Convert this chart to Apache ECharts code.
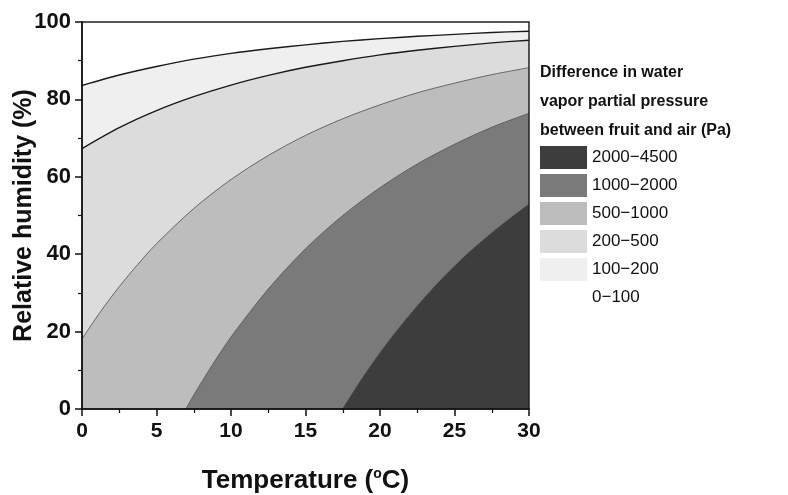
<!DOCTYPE html>
<html>
<head>
<meta charset="utf-8">
<script src="https://cdn.jsdelivr.net/npm/echarts@6/dist/echarts.min.js"></script>
<style>html,body{margin:0;padding:0;background:#fff}#c{width:788px;height:495px}</style>
</head>
<body>
<div id="c"></div>
<script>
// Contour boundaries: [temperature °C, relative humidity %]
const contour100 = [[0,83.6],[2.5,86.3],[5,88.5],[7.5,90.4],[10,91.9],[12.5,93.1],[15,94.1],[17.5,95.0],[20,95.7],[22.5,96.3],[25,96.8],[27.5,97.3],[30,97.6]];
const contour200 = [[0,67.3],[2.5,72.7],[5,77.1],[7.5,80.7],[10,83.7],[12.5,86.2],[15,88.3],[17.5,90.0],[20,91.5],[22.5,92.7],[25,93.7],[27.5,94.6],[30,95.3]];
const contour500 = [[0,18.1],[1.25,25.2],[2.5,31.6],[3.75,37.4],[5,42.7],[7.5,51.8],[10,59.3],[12.5,65.5],[15,70.7],[17.5,75.0],[20,78.6],[22.5,81.7],[25,84.2],[27.5,86.4],[30,88.2]];
const contour1000 = [[6.97,0],[7.5,3.6],[8.75,11.4],[10,18.6],[12.5,31.0],[15,41.4],[17.5,50.0],[20,57.2],[22.5,63.3],[25,68.4],[27.5,72.8],[30,76.4]];
const contour2000 = [[17.5,0],[18.75,7.6],[20,14.5],[21.25,20.8],[22.5,26.6],[23.75,32.0],[25,36.9],[26.25,41.4],[27.5,45.5],[28.75,49.3],[30,52.9]];
const topEdge = [[0,100],[30,100]];

const bandNames = ['0−100','100−200','200−500','500−1000','1000−2000','2000−4500'];
const bandColors = ['#ffffff','#efefef','#dcdcdc','#bdbdbd','#7a7a7a','#3d3d3d'];
const boundaries = [topEdge, contour100, contour200, contour500, contour1000, contour2000];
const lineColors = ['#ffffff','#1a1a1a','#1a1a1a','#5a5a5a','#5a5a5a','#4a4a4a'];
const lineWidths = [0,1.4,1.4,0.9,0.9,0.9];

const xTicks = {min:0, max:30, interval:5};
const yTicks = {min:0, max:100, interval:20};

const FONT = 'Liberation Sans, Arial, Helvetica, sans-serif';

const series = boundaries.map((d,i)=>({
  name: bandNames[i],
  type: 'line',
  data: d,
  smooth: 0.3,
  showSymbol: false,
  symbol: 'none',
  silent: true,
  itemStyle: {color: bandColors[i]},
  lineStyle: {color: lineColors[i], width: lineWidths[i]},
  areaStyle: {color: bandColors[i], opacity: 1, origin: 'start'},
  z: 2 + i
}));

const chart = echarts.init(document.getElementById('c'), null, {renderer:'canvas'});
chart.setOption({
  animation: false,
  backgroundColor: '#fff',
  title: {
    text: 'Difference in water\nvapor partial pressure\nbetween fruit and air (Pa)',
    left: 540, top: 58,
    padding: 0,
    textStyle: {fontFamily: FONT, fontSize: 16, fontWeight: 'bold', color: '#111', lineHeight: 29}
  },
  legend: {
    orient: 'vertical',
    left: 540, top: 146,
    padding: 0,
    itemWidth: 47, itemHeight: 23, itemGap: 5,
    icon: 'rect',
    selectedMode: false,
    itemStyle: {borderWidth: 0},
    textStyle: {fontFamily: FONT, fontSize: 17, color: '#111'},
    data: bandNames.slice().reverse().map(n => ({
      name: n,
      itemStyle: {color: bandColors[bandNames.indexOf(n)], borderWidth: 0}
    }))
  },
  grid: {left: 82, right: 259, top: 22, bottom: 86, outerBoundsMode: 'none', containLabel: false,
    show: true, borderColor: '#222', borderWidth: 1.5, backgroundColor: 'transparent', z: 10},
  xAxis: {
    type: 'value', min: xTicks.min, max: xTicks.max, interval: xTicks.interval,
    name: 'Temperature ({sup|o}C)',
    nameLocation: 'middle', nameGap: 58, nameMoveOverlap: false,
    nameTextStyle: {fontFamily: FONT, fontSize: 26, fontWeight: 'bold', color: '#111',
      rich: {sup: {fontFamily: FONT, fontSize: 14, fontWeight: 'bold', color: '#111', verticalAlign: 'top', padding: [0,0,14,0]}}},
    axisLine: {show: true, onZero: false, lineStyle: {color: '#111', width: 1.5}},
    axisTick: {show: true, inside: false, length: 7, lineStyle: {color: '#111', width: 1.5}},
    minorTick: {show: true, splitNumber: 2, length: 4, lineStyle: {color: '#111', width: 1.2}},
    splitLine: {show: false},
    axisLabel: {fontFamily: FONT, fontSize: 21, fontWeight: 'bold', color: '#111', margin: 12},
    z: 12
  },
  yAxis: {
    type: 'value', min: yTicks.min, max: yTicks.max, interval: yTicks.interval,
    name: 'Relative humidity (%)',
    nameLocation: 'middle', nameGap: 45, nameRotate: 90, nameMoveOverlap: false,
    nameTextStyle: {fontFamily: FONT, fontSize: 25, fontWeight: 'bold', color: '#111'},
    axisLine: {show: true, onZero: false, lineStyle: {color: '#111', width: 1.5}},
    axisTick: {show: true, inside: false, length: 7, lineStyle: {color: '#111', width: 1.5}},
    minorTick: {show: true, splitNumber: 2, length: 4, lineStyle: {color: '#111', width: 1.2}},
    splitLine: {show: false},
    axisLabel: {fontFamily: FONT, fontSize: 22, fontWeight: 'bold', color: '#111', margin: 11},
    z: 12
  },
  series: series
});
</script>
</body>
</html>
